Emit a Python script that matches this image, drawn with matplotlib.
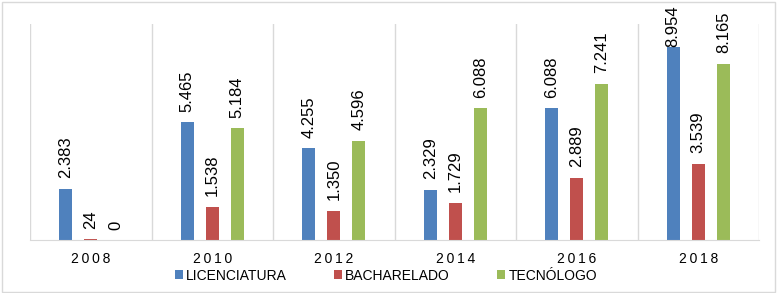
import matplotlib.pyplot as plt
import numpy as np
from matplotlib.patches import Rectangle

plt.rcParams['font.family'] = ['Liberation Sans', 'DejaVu Sans']

anos = ['2008', '2010', '2012', '2014', '2016', '2018']
licenciatura = [2383, 5465, 4255, 2329, 6088, 8954]
bacharelado = [24, 1538, 1350, 1729, 2889, 3539]
tecnologo = [0, 5184, 4596, 6088, 7241, 8165]

series = [('LICENCIATURA', licenciatura, '#4F81BD'),
          ('BACHARELADO', bacharelado, '#C0504D'),
          ('TECNÓLOGO', tecnologo, '#9BBB59')]
ymax = 10000


def fmt(v):
    return f"{v:,}".replace(",", ".")


fig = plt.figure(figsize=(7.79, 2.93), dpi=100)
ax = fig.add_axes([30 / 779, 53 / 293, 729 / 779, 216 / 293])

x = np.arange(len(anos))
offsets = [-0.206, 0.0, 0.206]
width = 0.107
for (nome, vals, cor), off in zip(series, offsets):
    bars = ax.bar(x + off, vals, width, color=cor, label=nome)
    for b, v in zip(bars, vals):
        # label sem folga quando nao cabe acima da barra
        dy = 0 if v > 0.85 * ymax else 7.5
        ax.annotate(fmt(v), (b.get_x() + b.get_width() / 2, b.get_height()),
                    xytext=(0, dy), textcoords='offset points',
                    rotation=90, ha='center', va='bottom', fontsize=12)

ax.set_xlim(-0.5, len(anos) - 0.5)
ax.set_ylim(0, ymax)
ax.set_yticks([])
ax.set_xticks(x)
ax.set_xticklabels(['\u2009'.join(a) for a in anos], fontsize=10)
ax.tick_params(axis='x', length=0, pad=8.5)
for i in range(len(anos) + 1):
    ax.axvline(i - 0.5, color='#D9D9D9', lw=1, zorder=0)
for s in ['top', 'right', 'left']:
    ax.spines[s].set_visible(False)
ax.spines['bottom'].set_color('#D9D9D9')

fig.legend(loc='center', bbox_to_anchor=(386 / 779, 17.5 / 293), ncol=3,
           frameon=False, fontsize=10, handlelength=0.55, handleheight=0.55,
           handletextpad=0.25, columnspacing=3.4)

fig.patches.append(Rectangle((2 / 779, 1.5 / 293), 773 / 779, 290 / 293,
                             transform=fig.transFigure, fill=False,
                             edgecolor='#D9D9D9', lw=1))

fig.savefig('out.png', dpi=100)
